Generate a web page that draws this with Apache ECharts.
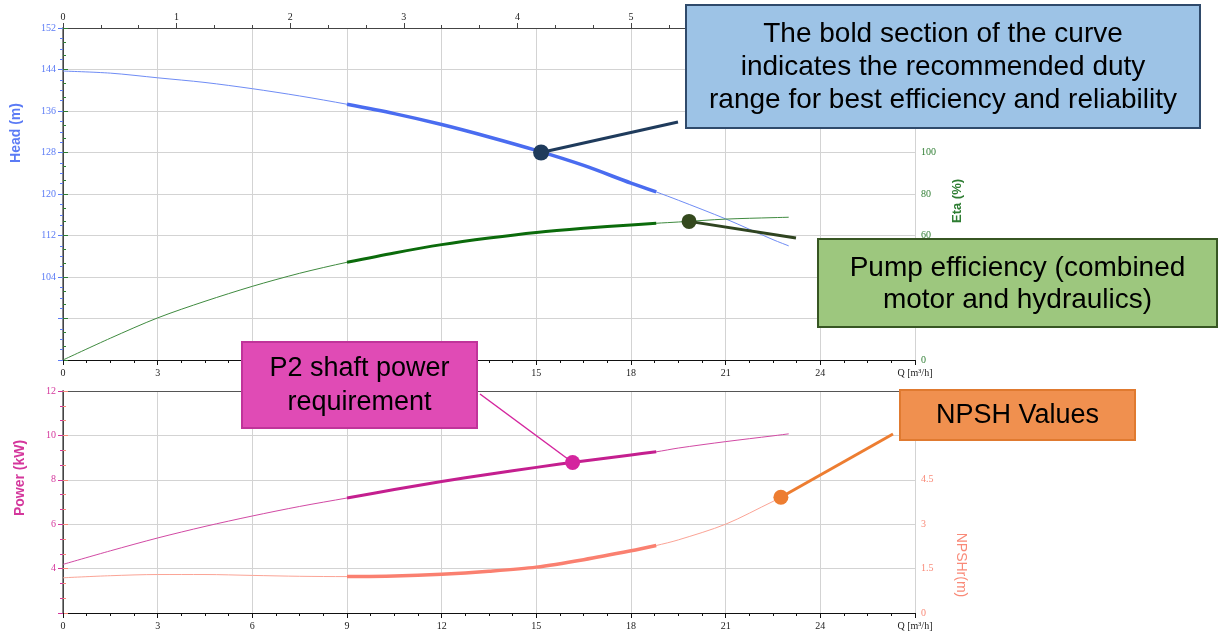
<!DOCTYPE html>
<html><head><meta charset="utf-8">
<script src="https://cdn.jsdelivr.net/npm/echarts@6/dist/echarts.min.js"></script>
<style>html,body{margin:0;padding:0;background:#fff}#c{width:1224px;height:636px}</style>
</head><body><div id="c"></div>
<script>
// ---- data ----
const flowQ    = [0, 1.5, 3, 4.5, 6, 7.5, 9, 10.5, 12, 13.5, 15, 16.5, 18, 18.8, 19.5, 21, 22.5, 23];
const headM    = [143.7, 143.3, 142.4, 141.5, 140.3, 138.9, 137.3, 135.5, 133.4, 131.0, 128.4, 125.5, 122.1, 120.4, 118.8, 115.2, 111.2, 110.0];
const etaPct   = [0, 10.5, 20.3, 28.3, 35.5, 41.8, 47.1, 51.6, 55.6, 58.8, 61.5, 63.5, 65.1, 65.9, 66.5, 67.9, 68.6, 68.8];
const powerKW  = [4.19, 4.80, 5.38, 5.90, 6.37, 6.80, 7.18, 7.56, 7.92, 8.25, 8.56, 8.85, 9.12, 9.26, 9.43, 9.72, 9.98, 10.07];
const npshM    = [1.19, 1.26, 1.30, 1.30, 1.27, 1.24, 1.23, 1.25, 1.31, 1.41, 1.55, 1.80, 2.10, 2.28, 2.47, 3.00, 3.77, 4.02];
const dutyRange = [9, 18.8];
const headPoint  = [15.15, 128.0];
const etaPoint   = [19.84, 66.8];
const powerPoint = [16.15, 8.78];
const npshPoint  = [22.75, 3.91];
const qAxisName = 'Q [m³/h]';
const noteBlue   = ['The bold section of the curve', 'indicates the recommended duty', 'range for best efficiency and reliability'];
const noteGreen  = ['Pump efficiency (combined', 'motor and hydraulics)'];
const notePink   = ['P2 shaft power', 'requirement'];
const noteOrange = ['NPSH Values'];

const pairs = v => flowQ.map((q, i) => [q, v[i]]);
const bold = v => pairs(v).filter(p => p[0] >= dutyRange[0] && p[0] <= dutyRange[1]);

const serif = 'Liberation Serif';
const gridLine = { show: true, lineStyle: { color: '#d3d3d3', width: 1 } };
const qLabel = { fontFamily: serif, fontSize: 10, color: '#222', margin: 8,
  formatter: v => v === 27 ? qAxisName : String(v) };

const chart = echarts.init(document.getElementById('c'), null, { renderer: 'canvas' });

const option = {
  animation: false,
  backgroundColor: '#fff',
  grid: [
    { left: 63, right: 309, top: 28, height: 332 },
    { left: 63, right: 309, top: 391, height: 222 }
  ],
  xAxis: [
    { gridIndex: 0, type: 'value', position: 'bottom', min: 0, max: 27, interval: 3,
      axisLine: { lineStyle: { color: '#111', width: 1 } },
      axisTick: { show: true, length: 5, lineStyle: { color: '#111' } },
      minorTick: { show: true, splitNumber: 4, length: 3, lineStyle: { color: '#111' } },
      splitLine: gridLine, axisLabel: qLabel },
    { gridIndex: 0, type: 'value', position: 'top', min: 0, max: 7.5, interval: 1,
      axisLine: { lineStyle: { color: '#444', width: 1 } },
      axisTick: { show: true, length: 5, lineStyle: { color: '#444' } },
      minorTick: { show: true, splitNumber: 3, length: 3, lineStyle: { color: '#444' } },
      splitLine: { show: false },
      axisLabel: { fontFamily: serif, fontSize: 10, color: '#222', margin: 6,
        formatter: v => Number.isInteger(v) ? String(v) : '' } },
    { gridIndex: 1, type: 'value', position: 'bottom', min: 0, max: 27, interval: 3,
      axisLine: { lineStyle: { color: '#111', width: 1 } },
      axisTick: { show: true, length: 5, lineStyle: { color: '#111' } },
      minorTick: { show: true, splitNumber: 4, length: 3, lineStyle: { color: '#111' } },
      splitLine: gridLine, axisLabel: qLabel },
    { gridIndex: 1, type: 'value', position: 'top', min: 0, max: 27,
      axisLine: { lineStyle: { color: '#555', width: 1 } },
      axisTick: { show: false }, axisLabel: { show: false }, splitLine: { show: false } }
  ],
  yAxis: [
    { gridIndex: 0, type: 'value', position: 'left', min: 88, max: 152, interval: 8,
      axisLine: { show: true, lineStyle: { color: '#8a8a8a', width: 2 } },
      axisTick: { show: true, length: 5, lineStyle: { color: '#5b7bf5' } },
      minorTick: { show: true, splitNumber: 4, length: 3, lineStyle: { color: '#5b7bf5' } },
      splitLine: gridLine,
      axisLabel: { fontFamily: serif, fontSize: 10, color: '#5b7bf5', margin: 7,
        formatter: v => v >= 104 ? String(v) : '' } },
    { gridIndex: 0, type: 'value', position: 'right', min: 0, max: 160, interval: 20,
      axisLine: { show: true, lineStyle: { color: '#444', width: 1 } },
      axisTick: { show: true, length: 5, lineStyle: { color: '#2e7d32' } },
      minorTick: { show: true, splitNumber: 3, length: 3, lineStyle: { color: '#2e7d32' } },
      splitLine: { show: false },
      axisLabel: { fontFamily: serif, fontSize: 10, color: '#2e7d32', margin: 6,
        formatter: v => v <= 100 ? String(v) : '' } },
    { gridIndex: 1, type: 'value', position: 'left', min: 2, max: 12, interval: 2,
      axisLine: { show: true, lineStyle: { color: '#8a8a8a', width: 2 } },
      axisTick: { show: true, length: 5, lineStyle: { color: '#d4379c' } },
      minorTick: { show: true, splitNumber: 3, length: 3, lineStyle: { color: '#d4379c' } },
      splitLine: gridLine,
      axisLabel: { fontFamily: serif, fontSize: 10, color: '#d4379c', margin: 7,
        formatter: v => v >= 4 ? String(v) : '' } },
    { gridIndex: 1, type: 'value', position: 'right', min: 0, max: 7.5, interval: 1.5,
      axisLine: { show: true, lineStyle: { color: '#444', width: 1 } },
      axisTick: { show: true, length: 5, lineStyle: { color: '#f98a78' } },
      minorTick: { show: true, splitNumber: 3, length: 3, lineStyle: { color: '#f98a78' } },
      splitLine: { show: false },
      axisLabel: { fontFamily: serif, fontSize: 10, color: '#f98a78', margin: 6,
        formatter: v => v <= 4.5 ? String(v) : '' } }
  ],
  series: [
    { name: 'Head', type: 'line', xAxisIndex: 0, yAxisIndex: 0, data: pairs(headM), smooth: 0.3,
      showSymbol: false, lineStyle: { color: '#6f8cf5', width: 1 } },
    { name: 'Head duty', type: 'line', xAxisIndex: 0, yAxisIndex: 0, data: bold(headM), smooth: 0.3,
      showSymbol: false, lineStyle: { color: '#4a6cf0', width: 3.5 } },
    { name: 'Eta', type: 'line', xAxisIndex: 0, yAxisIndex: 1, data: pairs(etaPct), smooth: 0.3,
      showSymbol: false, lineStyle: { color: '#3f8a3f', width: 1 } },
    { name: 'Eta duty', type: 'line', xAxisIndex: 0, yAxisIndex: 1, data: bold(etaPct), smooth: 0.3,
      showSymbol: false, lineStyle: { color: '#0b6b0b', width: 3 } },
    { name: 'Power', type: 'line', xAxisIndex: 2, yAxisIndex: 2, data: pairs(powerKW), smooth: 0.3,
      showSymbol: false, lineStyle: { color: '#d24aa4', width: 1 } },
    { name: 'Power duty', type: 'line', xAxisIndex: 2, yAxisIndex: 2, data: bold(powerKW), smooth: 0.3,
      showSymbol: false, lineStyle: { color: '#c41f8f', width: 3 } },
    { name: 'NPSH', type: 'line', xAxisIndex: 2, yAxisIndex: 3, data: pairs(npshM), smooth: 0.3,
      showSymbol: false, lineStyle: { color: '#fba496', width: 1 } },
    { name: 'NPSH duty', type: 'line', xAxisIndex: 2, yAxisIndex: 3, data: bold(npshM), smooth: 0.3,
      showSymbol: false, lineStyle: { color: '#fa8070', width: 3.5 } },
    { type: 'scatter', xAxisIndex: 0, yAxisIndex: 0, data: [headPoint], symbolSize: 16, z: 20,
      itemStyle: { color: '#1f3b5c', opacity: 1 } },
    { type: 'scatter', xAxisIndex: 0, yAxisIndex: 1, data: [etaPoint], symbolSize: 15, z: 20,
      itemStyle: { color: '#34491e', opacity: 1 } },
    { type: 'scatter', xAxisIndex: 2, yAxisIndex: 2, data: [powerPoint], symbolSize: 15, z: 20,
      itemStyle: { color: '#d4259e', opacity: 1 } },
    { type: 'scatter', xAxisIndex: 2, yAxisIndex: 3, data: [npshPoint], symbolSize: 15, z: 20,
      itemStyle: { color: '#ed7d31', opacity: 1 } }
  ]
};
chart.setOption(option);

const px = (xi, yi, p) => chart.convertToPixel({ xAxisIndex: xi, yAxisIndex: yi }, p);
const pH = px(0, 0, headPoint), pE = px(0, 1, etaPoint), pP = px(2, 2, powerPoint), pN = px(2, 3, npshPoint);

function axisName(text, x, y, rot, color, size, weight) {
  return { type: 'text', x, y, rotation: rot, z: 30,
    style: { text, fill: color, font: `${weight} ${size}px "Liberation Sans", Arial, sans-serif`,
      textAlign: 'center', textVerticalAlign: 'middle' } };
}
function note(x, y, w, h, fill, stroke, lines, size, lh, ty) {
  return { type: 'group', z: 100, children: [
    { type: 'rect', shape: { x, y, width: w, height: h }, z: 100,
      style: { fill, stroke, lineWidth: 2 } },
    { type: 'text', x: x + w / 2, y: ty, z: 101,
      style: { text: lines.join('\n'), fill: '#000', textAlign: 'center', textVerticalAlign: 'middle',
        font: `${size}px "Liberation Sans", Arial, sans-serif`, lineHeight: lh } }
  ] };
}
function link(a, b, color, w) {
  return { type: 'line', z: 19, shape: { x1: a[0], y1: a[1], x2: b[0], y2: b[1] },
    style: { stroke: color, lineWidth: w } };
}

chart.setOption({
  graphic: [
    axisName('Head (m)', 16, 133, Math.PI / 2, '#5b7bf5', 14, 'bold'),
    axisName('Eta (%)', 957, 201, Math.PI / 2, '#2e7d32', 13, 'bold'),
    axisName('Power (kW)', 20, 478, Math.PI / 2, '#d4379c', 14, 'bold'),
    axisName('NPSHr(m)', 961, 565, -Math.PI / 2, '#f98a78', 14, 'normal'),
    link(pH, [678, 122], '#1f3b5c', 3),
    link(pE, [796, 238], '#2f4420', 3),
    link(pP, [480, 394], '#d4259e', 1.5),
    link(pN, [893, 434], '#ed7d31', 3),
    note(686, 5, 514, 123, '#9dc3e6', '#2f4a6b', noteBlue, 28, 33, 67),
    note(818, 239, 399, 88, '#9dc77e', '#375623', noteGreen, 28, 32, 284),
    note(242, 342, 235, 86, '#e04bb5', '#c0349a', notePink, 27, 34, 386),
    note(900, 390, 235, 50, '#f0904f', '#e07a30', noteOrange, 27, 30, 416)
  ]
});
</script>
</body></html>
